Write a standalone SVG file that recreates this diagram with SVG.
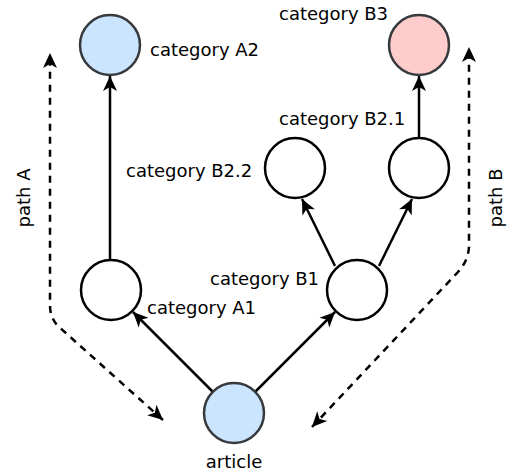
<svg xmlns="http://www.w3.org/2000/svg" width="509" height="473" viewBox="0 0 509 473">
<style>
  .node { stroke-width: 2.5; }
  .plain { fill: #ffffff; stroke: #000000; }
  .blue { fill: #cce5ff; stroke: #36393d; }
  .pink { fill: #ffcccc; stroke: #36393d; }
  .edge { fill: none; stroke: #000000; stroke-width: 2.5; marker-end: url(#arrow); }
  .dash { fill: none; stroke: #000000; stroke-width: 2.5; stroke-dasharray: 7 6; marker-start: url(#arrow); marker-end: url(#arrow); }
  text { font-family: "DejaVu Sans", Verdana, sans-serif; font-size: 18px; fill: #000000; }
</style>
<defs>
  <marker id="arrow" markerUnits="userSpaceOnUse" markerWidth="20" markerHeight="16" refX="15" refY="7" orient="auto-start-reverse" overflow="visible">
    <path d="M0,0 L15,7 L0,14 L4,7 Z" fill="#000000"/>
  </marker>
</defs>
<rect width="509" height="473" fill="#ffffff"/>
<g id="connectors">
  <path class="edge" d="M110,260 L110,76"/>
  <path class="edge" d="M213,392 L133,312"/>
  <path class="edge" d="M255,392 L335,312"/>
  <path class="edge" d="M335,266 L302,199"/>
  <path class="edge" d="M379,266 L412,199"/>
  <path class="edge" d="M419,138 L419,76"/>
  <path class="dash" d="M163,420 L58,326 Q50,318 50,305 L50,53"/>
  <path class="dash" d="M312,427 L458,272 Q469,260 469,245 L469,47"/>
</g>
<g id="node-A2"><circle class="node blue" cx="110" cy="45" r="30"/><text x="150" y="56">category A2</text></g>
<g id="node-B3"><circle class="node pink" cx="419" cy="45" r="30"/><text x="279" y="20">category B3</text></g>
<g id="node-B2-2"><circle class="node plain" cx="295" cy="168" r="30"/><text x="126" y="177">category B2.2</text></g>
<g id="node-B2-1"><circle class="node plain" cx="419" cy="168" r="30"/><text x="279" y="125">category B2.1</text></g>
<g id="node-A1"><circle class="node plain" cx="111" cy="290" r="30"/><text x="147" y="314">category A1</text></g>
<g id="node-B1"><circle class="node plain" cx="357" cy="290" r="30"/><text x="210" y="285">category B1</text></g>
<g id="node-article"><circle class="node blue" cx="234" cy="413" r="30"/><text x="234" y="468" text-anchor="middle">article</text></g>
<g id="label-pathA"><text transform="translate(30,198) rotate(-90)" text-anchor="middle">path A</text></g>
<g id="label-pathB"><text transform="translate(502,198) rotate(-90)" text-anchor="middle">path B</text></g>
</svg>
